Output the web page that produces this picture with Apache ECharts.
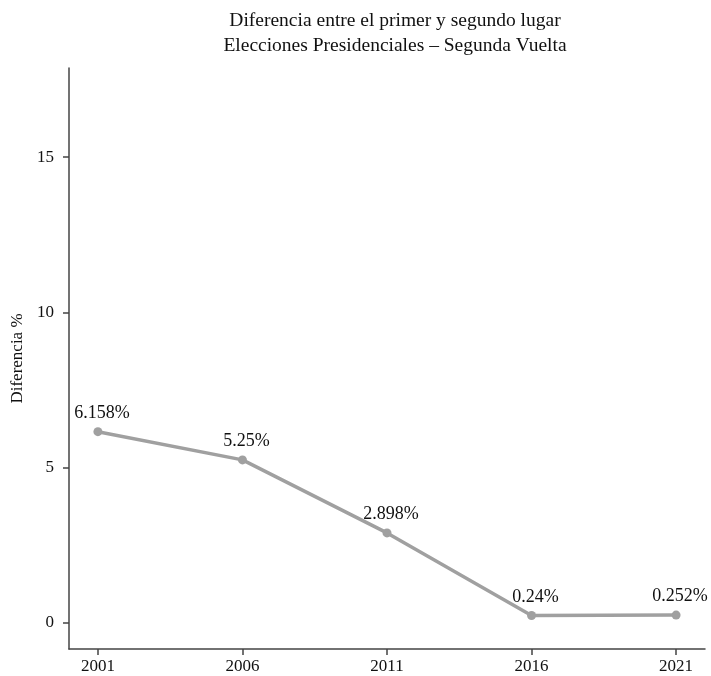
<!DOCTYPE html>
<html>
<head>
<meta charset="utf-8">
<script src="https://cdn.jsdelivr.net/npm/echarts@6/dist/echarts.min.js"></script>
<style>
  html, body { margin: 0; padding: 0; background: #fff; }
  #chart { width: 711px; height: 676px; }
</style>
</head>
<body>
<div id="chart"></div>
<script>
// Election years (second round) and the gap between first and second place, in %
const years = [2001, 2006, 2011, 2016, 2021];
const gapPct = [6.158, 5.25, 2.898, 0.24, 0.252];
const yTicks = [0, 5, 10, 15];

const FONT = '"Liberation Serif", "DejaVu Serif", serif';
const AXIS_COLOR = '#444';
const TEXT_COLOR = '#111';
const LINE_COLOR = '#a0a0a0';

const chart = echarts.init(document.getElementById('chart'), null, { renderer: 'canvas' });

chart.setOption({
  animation: false,
  backgroundColor: '#fff',
  textStyle: { fontFamily: FONT, color: TEXT_COLOR },
  title: {
    text: 'Diferencia entre el primer y segundo lugar\nElecciones Presidenciales – Segunda Vuelta',
    left: 390,
    top: 3,
    textAlign: 'center',
    textStyle: { fontFamily: FONT, fontSize: 19.5, fontWeight: 'normal', color: TEXT_COLOR, lineHeight: 25 }
  },
  grid: { left: 69, right: 6, top: 68, bottom: 27, containLabel: false },
  xAxis: {
    type: 'value',
    min: 2000,
    max: 2022,
    splitLine: { show: false },
    axisLine: { show: true, onZero: false, lineStyle: { color: AXIS_COLOR, width: 1.5 } },
    axisTick: { show: true, length: 6, lineStyle: { color: AXIS_COLOR, width: 1.5 }, customValues: years },
    axisLabel: { fontFamily: FONT, fontSize: 17, color: TEXT_COLOR, margin: 9, customValues: years, formatter: v => String(v) }
  },
  yAxis: {
    type: 'value',
    min: -0.84,
    max: 17.87,
    name: 'Diferencia %',
    nameLocation: 'middle',
    nameRotate: 90,
    nameGap: 43,
    nameTextStyle: { fontFamily: FONT, fontSize: 17, color: TEXT_COLOR },
    splitLine: { show: false },
    axisLine: { show: true, onZero: false, lineStyle: { color: AXIS_COLOR, width: 1.5 } },
    axisTick: { show: true, length: 6, lineStyle: { color: AXIS_COLOR, width: 1.5 }, customValues: yTicks },
    axisLabel: { fontFamily: FONT, fontSize: 17, color: TEXT_COLOR, margin: 15, customValues: yTicks, formatter: v => String(v) }
  },
  series: [{
    type: 'line',
    data: years.map((y, i) => [y, gapPct[i]]),
    symbol: 'circle',
    symbolSize: 9,
    lineStyle: { color: LINE_COLOR, width: 3.5 },
    itemStyle: { color: LINE_COLOR },
    label: {
      show: true,
      position: 'top',
      distance: 5,
      offset: [4, 0],
      fontFamily: FONT,
      fontSize: 18,
      color: TEXT_COLOR,
      formatter: p => p.value[1] + '%'
    }
  }]
});
</script>
</body>
</html>
